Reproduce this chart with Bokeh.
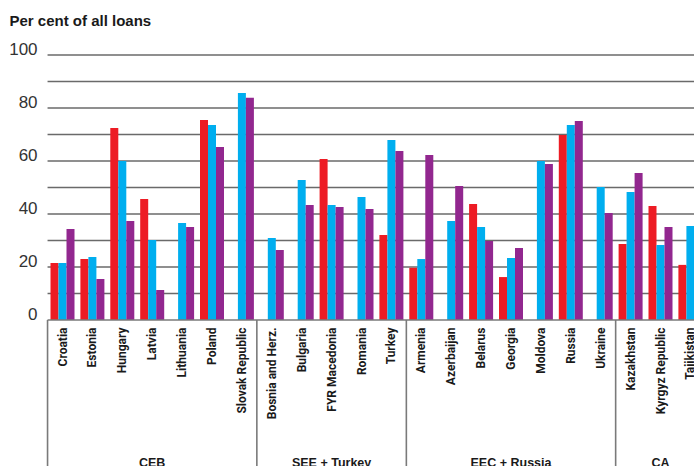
import math
from bokeh.plotting import figure
from bokeh.models import ColumnDataSource, Range1d
from bokeh.core.properties import value
from bokeh.embed import file_html
from bokeh.resources import INLINE

# ---------------- data ----------------
countries = ["Croatia", "Estonia", "Hungary", "Latvia", "Lithuania", "Poland",
             "Slovak Republic", "Bosnia and Herz.", "Bulgaria", "FYR Macedonia",
             "Romania", "Turkey", "Armenia", "Azerbaijan", "Belarus", "Georgia",
             "Moldova", "Russia", "Ukraine", "Kazakhstan", "Kyrgyz Republic",
             "Tajikistan"]
red_series = [21.5, 23.0, 72.5, 45.7, None, 75.5, None, None, None, 60.8, None,
              32.1, 19.7, None, 43.8, 16.2, None, 69.8, None, 28.7, 43.0, 20.8]
blue_series = [21.5, 23.8, 60.0, 30.2, 36.6, 73.6, 85.7, 30.9, 52.8, 43.4, 46.4,
               67.9, 23.0, 37.4, 35.1, 23.4, 60.0, 73.6, 50.2, 48.3, 28.3, 35.5]
purple_series = [34.3, 15.5, 37.4, 11.3, 35.1, 65.3, 83.9, 26.4, 43.4, 42.6, 41.9,
                 63.8, 62.3, 50.6, 29.8, 27.2, 58.9, 75.1, 40.4, 55.5, 35.1, 44.6]
group_names = ["CEB", "SEE + Turkey", "EEC + Russia", "CA"]
group_sizes = [7, 5, 7, 3]
y_ticks = [0, 20, 40, 60, 80, 100]
grid_ticks = [10, 20, 30, 40, 50, 60, 70, 80, 90, 100]
y_title = "Per cent of all loans"

# ---------------- geometry / style ----------------
W, H = 694, 466
PX_X = 29.9          # pixels per category
PX_Y = 2.65          # pixels per percentage point
cat0_px = 62         # centre of first category from figure left
zero_px = 319.5      # y=0 from figure top
x_start = -cat0_px / PX_X
x_end = (W - cat0_px) / PX_X
y_end = zero_px / PX_Y
y_start = -(H - zero_px) / PX_Y

RED, BLUE, PURPLE = "#ED1C24", "#00AEEF", "#92278F"
GRID = "#6a6a6a"
AXIS = "#7a7a7a"
bw = 8 / PX_X

p = figure(width=W, height=H, x_range=Range1d(x_start, x_end),
           y_range=Range1d(y_start, y_end), output_backend="svg",
           toolbar_location=None, min_border=0,
           x_axis_location=None, y_axis_location=None)
p.grid.visible = False
p.outline_line_color = None
p.background_fill_color = "white"
p.border_fill_color = "white"

x_left = -0.5

# gridlines
p.segment(x0=[x_left] * len(grid_ticks), x1=[x_end] * len(grid_ticks),
          y0=grid_ticks, y1=grid_ticks, line_color=GRID, line_width=1.7)

# bars
for series, col, off in ((red_series, RED, -bw), (blue_series, BLUE, 0.0),
                         (purple_series, PURPLE, bw)):
    xs = [i + off for i, v in enumerate(series) if v is not None]
    tops = [v for v in series if v is not None]
    src = ColumnDataSource(dict(x=xs, top=tops))
    p.vbar(x="x", top="top", bottom=0, width=bw, source=src,
           fill_color=col, line_color=None)

# baseline
p.segment(x0=[x_left], x1=[x_end], y0=[0], y1=[0], line_color=AXIS, line_width=1.6)

# group separators
bounds = [x_left]
for s in group_sizes:
    bounds.append(bounds[-1] + s)
sep = bounds[:-1]
p.segment(x0=sep, x1=sep, y0=[0] * len(sep), y1=[y_start] * len(sep),
          line_color=AXIS, line_width=1.6)

# country labels
lab_y = -7.5 / PX_Y
p.text(x=list(range(len(countries))), y=[lab_y] * len(countries), text=countries,
       angle=math.pi / 2, text_align="right", text_baseline="middle",
       text_font=value("Roboto"), text_font_style="bold",
       text_font_size="12px", text_color="#1a1a1a")

# group labels
centres = [(bounds[i] + bounds[i + 1]) / 2 for i in range(len(group_names))]
p.text(x=centres, y=[-(135.5 / PX_Y)] * len(centres), text=group_names,
       text_align="center", text_baseline="top",
       text_font=value("Liberation Sans"), text_font_style="bold",
       text_font_size="12.5px", text_color="#1a1a1a")

# y tick labels
p.text(x=[x_left - 10 / PX_X] * len(y_ticks), y=y_ticks,
       text=[str(t) for t in y_ticks], y_offset=-6,
       text_align="right", text_baseline="middle",
       text_font=value("Liberation Sans"), text_font_size="17px",
       text_color="#333333")

# axis title
p.text(x=[x_start + 9 / PX_X], y=[(zero_px - 20) / PX_Y], text=[y_title],
       text_align="left", text_baseline="middle",
       text_font=value("Liberation Sans"), text_font_style="bold",
       text_font_size="15px", text_color="#1a1a1a")

open("out.html", "w").write(file_html(p, INLINE))
